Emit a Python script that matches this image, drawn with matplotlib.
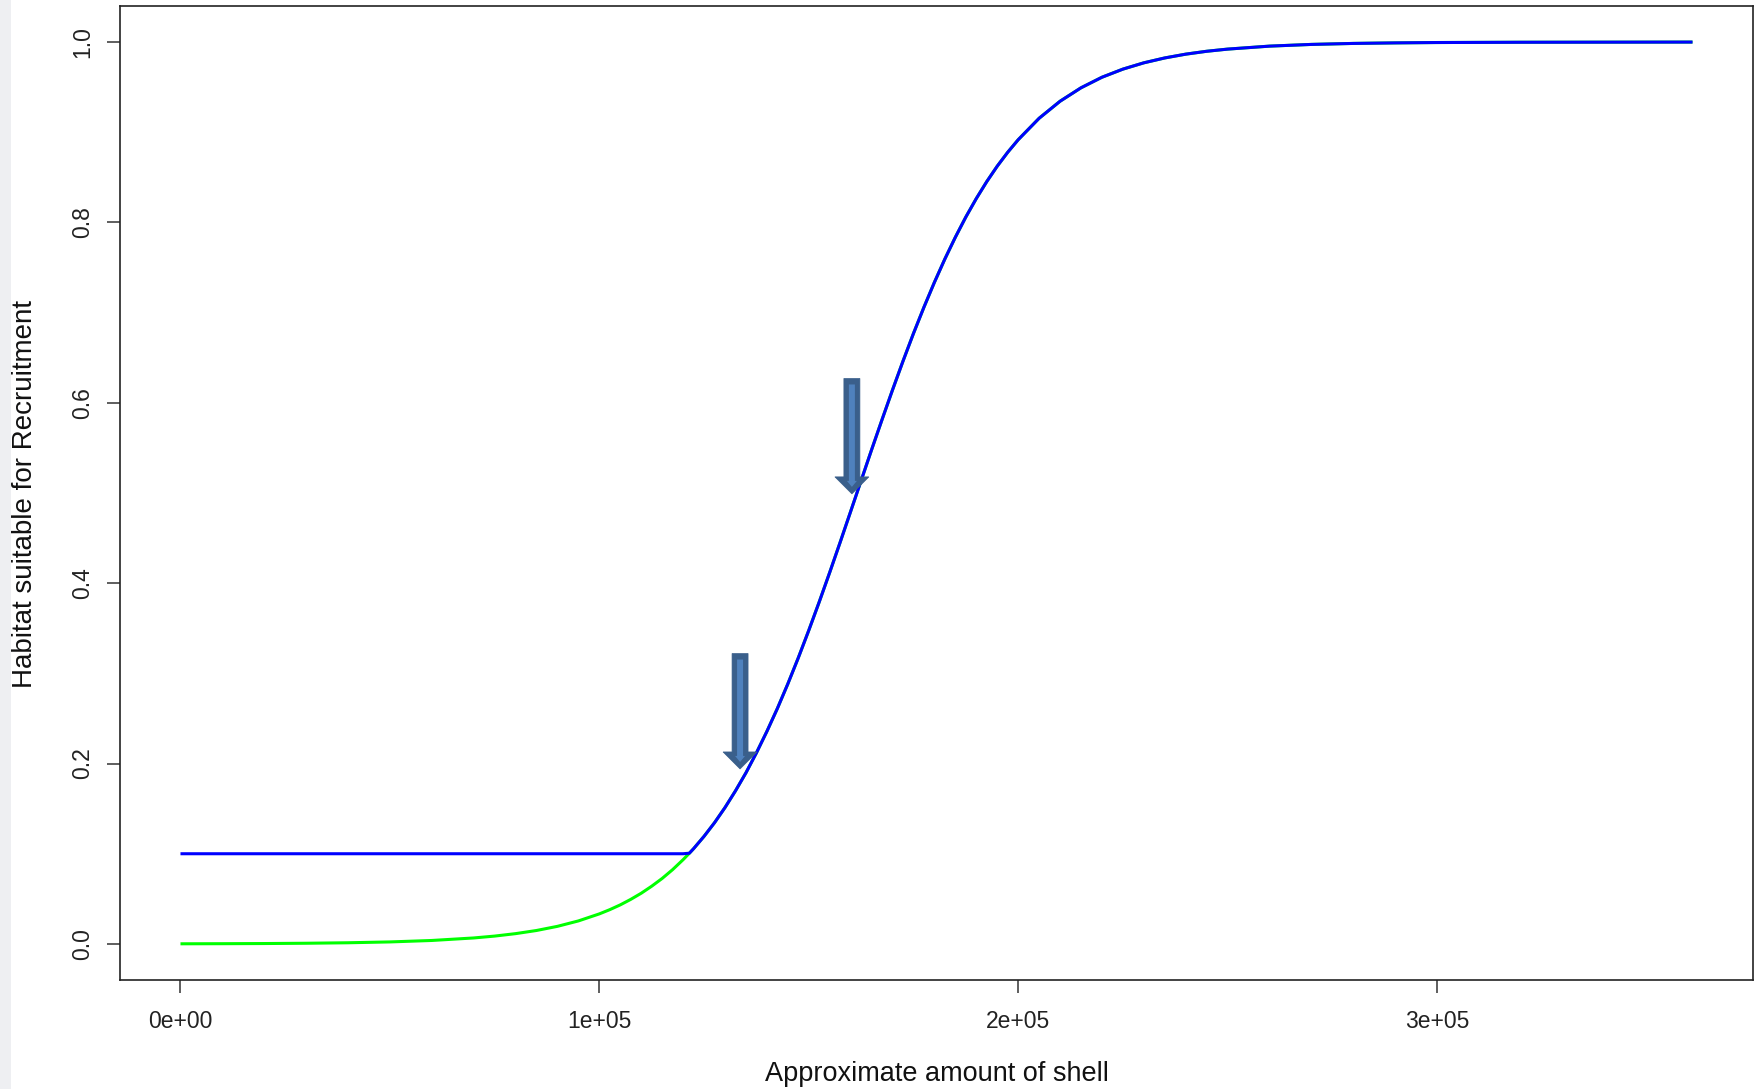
import matplotlib
matplotlib.use("Agg")
import matplotlib.pyplot as plt
from matplotlib.patches import FancyArrow, Rectangle

plt.rcParams['font.family'] = ['Liberation Sans', 'DejaVu Sans']

# Approximate amount of shell (x) and habitat suitability
shell = [0, 10000, 20000, 30000, 40000, 50000, 60000, 70000, 75000, 80000, 85000,
         90000, 95000, 100000, 102500, 105000, 107500, 110000, 112500, 115000,
         117500, 120000, 121500, 122500, 125000, 127500, 130000, 132500, 135000,
         137500, 140000, 142500, 145000, 147500, 150000, 152500, 155000, 157500,
         160000, 162500, 165000, 167500, 170000, 172500, 175000, 177500, 180000,
         182500, 185000, 187500, 190000, 192500, 195000, 197500, 200000, 205000,
         210000, 215000, 220000, 225000, 230000, 235000, 240000, 245000, 250000,
         260000, 270000, 280000, 290000, 300000, 320000, 340000, 361000]
suitability = [0.00014, 0.00025, 0.00043, 0.00075, 0.00129, 0.00222, 0.00383,
               0.00662, 0.00869, 0.0114, 0.0149, 0.0195, 0.0255, 0.0333, 0.0380,
               0.0433, 0.0494, 0.0562, 0.0640, 0.0726, 0.0824, 0.0934, 0.1006,
               0.1056, 0.1193, 0.1344, 0.1512, 0.1697, 0.1897, 0.2118, 0.2356,
               0.2610, 0.2883, 0.3172, 0.3476, 0.3792, 0.4119, 0.4454, 0.4795,
               0.5137, 0.5479, 0.5814, 0.6143, 0.6462, 0.6769, 0.7060, 0.7336,
               0.7595, 0.7836, 0.8060, 0.8265, 0.8453, 0.8624, 0.8778, 0.8917,
               0.9155, 0.9344, 0.9493, 0.9610, 0.9700, 0.9770, 0.9824, 0.9866,
               0.9898, 0.9922, 0.9955, 0.9974, 0.9985, 0.9991, 0.9995, 0.9998,
               0.9999, 1.0]
floor_value = 0.1
suitability_floor = [max(v, floor_value) for v in suitability]

x_ticks = [0, 100000, 200000, 300000]
x_tick_labels = ["0e+00", "1e+05", "2e+05", "3e+05"]
y_ticks = [0.0, 0.2, 0.4, 0.6, 0.8, 1.0]
y_tick_labels = ["0.0", "0.2", "0.4", "0.6", "0.8", "1.0"]

# annotation arrows: (x, top, tip)
arrow_x = [133600, 160300]
arrow_top = [0.322, 0.627]
arrow_tip = [0.194, 0.499]

fig = plt.figure(figsize=(17.6, 10.89), dpi=100)
fig.patches.append(Rectangle((0, 0), 11 / 1760, 1, transform=fig.transFigure,
                             facecolor='#eeeff2', edgecolor='none', zorder=0))
ax = fig.add_axes([120 / 1760, 109 / 1089, 1633 / 1760, 974 / 1089])

ax.plot(shell, suitability, color='#00ff00', lw=2.2, solid_capstyle='butt',
        solid_joinstyle='round')
ax.plot(shell, suitability_floor, color='#0000ff', lw=2.2, solid_capstyle='butt',
        solid_joinstyle='round')

ax.set_xlim(-0.04 * 361000, 1.04 * 361000)
ax.set_ylim(-0.04, 1.04)

ax.set_xticks(x_ticks)
ax.set_xticklabels(x_tick_labels)
ax.set_yticks(y_ticks)
ax.set_yticklabels(y_tick_labels, rotation=90, va='center')

ax.tick_params(axis='both', direction='out', length=9.4, width=1.1,
               color='#333333', labelsize=16.5, labelcolor='#222222')
ax.tick_params(axis='x', pad=12)
ax.tick_params(axis='y', pad=9)
for s in ax.spines.values():
    s.set_linewidth(1.2)
    s.set_color('#222222')

ax.set_xlabel("Approximate amount of shell", fontsize=19.5, color='#111111')
ax.xaxis.set_label_coords(0.5, -0.0965)
ax.xaxis.label.set_va('center')
ax.set_ylabel("Habitat suitable for Recruitment", fontsize=20, color='#111111')
ax.yaxis.set_label_coords(-0.0582, 0.499)
ax.yaxis.label.set_va('center')

px_x = 100000 / 419.0   # data units per pixel in x
px_y = 1.0 / 901.0      # data units per pixel in y
for xa, yt, yb in zip(arrow_x, arrow_top, arrow_tip):
    outer = FancyArrow(xa, yt, 0, yb - yt, width=16 * px_x, head_width=34 * px_x,
                       head_length=17 * px_y, length_includes_head=True,
                       facecolor='#3a5f8b', edgecolor='#3a5f8b', lw=0.5, zorder=3)
    ax.add_patch(outer)
    inner = FancyArrow(xa, yt - 6 * px_y, 0, (yb - yt) + 13 * px_y, width=6 * px_x,
                       head_width=10 * px_x, head_length=6 * px_y,
                       length_includes_head=True, facecolor='#4f81bd',
                       edgecolor='none', zorder=4)
    ax.add_patch(inner)

fig.savefig("out.png", dpi=100)
